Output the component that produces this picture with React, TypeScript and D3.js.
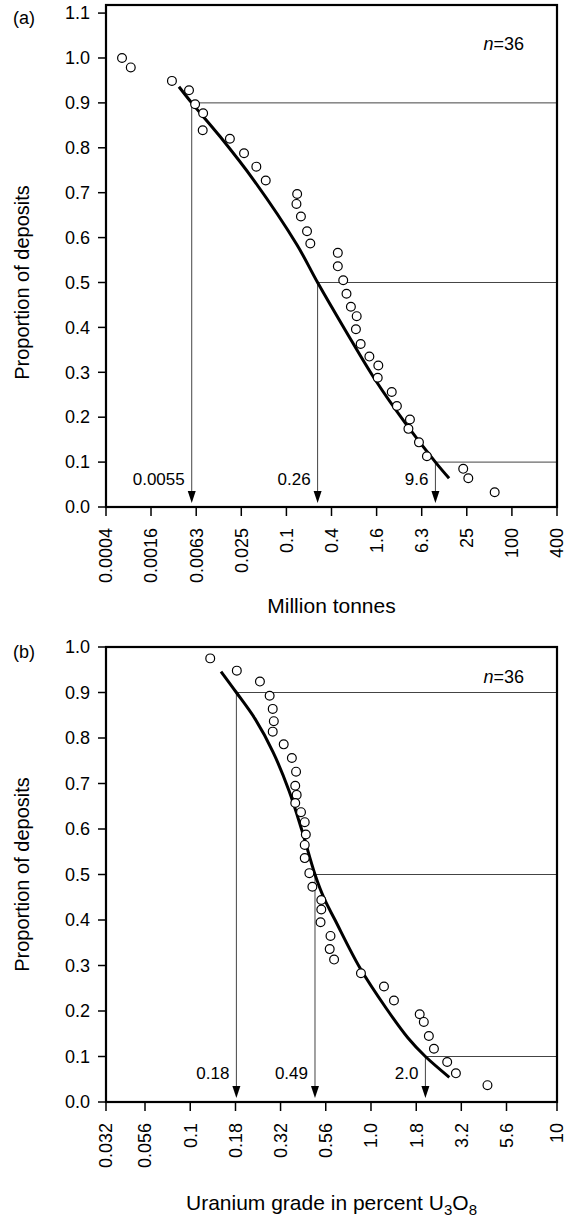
import React, { useRef, useEffect } from 'react';
import * as d3 from 'd3';

const W = 567;
const H = 1219;
const FONT = "'Liberation Sans', Arial, Helvetica, sans-serif";

// (a) deposit tonnage, million tonnes
const tonnage = [0.00065, 0.00085, 0.003, 0.00506, 0.0061, 0.0078, 0.0077, 0.0177, 0.0273, 0.0398, 0.0531, 0.139,
  0.136, 0.156, 0.188, 0.208, 0.483, 0.483, 0.57, 0.63, 0.721, 0.861, 0.841, 0.972, 1.27, 1.67, 1.64,
  2.52, 2.95, 4.4, 4.2, 5.8, 7.4, 22.5, 26.3, 59];
const tonnageProp = [1.0, 0.979, 0.949, 0.928, 0.897, 0.877, 0.839, 0.82, 0.788, 0.758, 0.727, 0.697,
  0.675, 0.647, 0.614, 0.587, 0.566, 0.536, 0.505, 0.475, 0.446, 0.425, 0.396, 0.363, 0.335, 0.315, 0.288,
  0.256, 0.225, 0.195, 0.174, 0.144, 0.113, 0.085, 0.064, 0.033];
// fitted curve
const tonnageFitX = [0.00372, 0.0055, 0.0131, 0.0371, 0.138, 0.26, 0.602, 1.51, 3.78, 9.6, 14.6];
const tonnageFitP = [0.936, 0.9, 0.825, 0.727, 0.584, 0.5, 0.395, 0.284, 0.188, 0.1, 0.064];
const tonnageQuant = [0.0055, 0.26, 9.6];
const tonnageQuantLabels = ['0.0055', '0.26', '9.6'];
const tonnageTicks = [0.000398, 0.00158, 0.00631, 0.0251, 0.1, 0.398, 1.585, 6.31, 25.1, 100, 398];
const tonnageTickLabels = ['0.0004', '0.0016', '0.0063', '0.025', '0.1', '0.4', '1.6', '6.3', '25', '100', '400'];
const propTicksA = [0, 0.1, 0.2, 0.3, 0.4, 0.5, 0.6, 0.7, 0.8, 0.9, 1.0, 1.1];

// (b) uranium grade, percent U3O8
const grade = [0.129, 0.181, 0.243, 0.275, 0.286, 0.29, 0.286, 0.329, 0.365, 0.385, 0.381, 0.388,
  0.381, 0.41, 0.43, 0.436, 0.43, 0.43, 0.456, 0.474, 0.531, 0.531, 0.526, 0.597, 0.591, 0.625, 0.88,
  1.18, 1.34, 1.86, 1.96, 2.09, 2.23, 2.64, 2.95, 4.41];
const gradeProp = [0.975, 0.948, 0.924, 0.893, 0.864, 0.837, 0.814, 0.786, 0.756, 0.726, 0.695, 0.675,
  0.657, 0.637, 0.615, 0.588, 0.565, 0.536, 0.503, 0.473, 0.444, 0.423, 0.395, 0.365, 0.336, 0.313, 0.283,
  0.254, 0.223, 0.193, 0.176, 0.145, 0.117, 0.088, 0.063, 0.037];
const gradeFitX = [0.148, 0.18, 0.2284, 0.2872, 0.352, 0.4155, 0.49, 0.5497, 0.6327, 0.8696, 1.211, 1.603, 2.0, 2.713];
const gradeFitP = [0.946, 0.9, 0.842, 0.769, 0.684, 0.596, 0.5, 0.448, 0.4, 0.2945, 0.2066, 0.1407, 0.1, 0.0543];
const gradeQuant = [0.18, 0.49, 2.0];
const gradeQuantLabels = ['0.18', '0.49', '2.0'];
const gradeTicks = [0.0316, 0.0562, 0.1, 0.178, 0.316, 0.562, 1, 1.78, 3.16, 5.62, 10];
const gradeTickLabels = ['0.032', '0.056', '0.1', '0.18', '0.32', '0.56', '1.0', '1.8', '3.2', '5.6', '10'];
const propTicksB = [0, 0.1, 0.2, 0.3, 0.4, 0.5, 0.6, 0.7, 0.8, 0.9, 1.0];

const quantProps = [0.9, 0.5, 0.1];

interface Panel {
  tag: string;
  xs: number[];
  ps: number[];
  fitX: number[];
  fitP: number[];
  quant: number[];
  quantLabels: string[];
  xTicks: number[];
  xTickLabels: string[];
  yTicks: number[];
  xDomain: number[];
  xRange: number[];
  yMax: number;
  top: number;
  bottom: number;
  nY: number;
  titleY: number;
  title: 'tonnes' | 'grade';
}

const panels: Panel[] = [
  {
    tag: '(a)', xs: tonnage, ps: tonnageProp, fitX: tonnageFitX, fitP: tonnageFitP,
    quant: tonnageQuant, quantLabels: tonnageQuantLabels,
    xTicks: tonnageTicks, xTickLabels: tonnageTickLabels, yTicks: propTicksA,
    xDomain: [0.000398, 398], xRange: [106, 557],
    yMax: 1.118, top: 5, bottom: 507, nY: 50, titleY: 613, title: 'tonnes',
  },
  {
    tag: '(b)', xs: grade, ps: gradeProp, fitX: gradeFitX, fitP: gradeFitP,
    quant: gradeQuant, quantLabels: gradeQuantLabels,
    xTicks: gradeTicks, xTickLabels: gradeTickLabels, yTicks: propTicksB,
    // the printed axis is not quite evenly spaced at its ends
    xDomain: [0.0316, 0.0562, 5.62, 10], xRange: [106, 145, 506.5, 557],
    yMax: 1.0, top: 647, bottom: 1102, nY: 683, titleY: 1210, title: 'grade',
  },
];

function drawPanel(svg: d3.Selection<SVGSVGElement, unknown, null, undefined>, p: Panel) {
  const x = d3.scaleLog().domain(p.xDomain).range(p.xRange);
  const y = d3.scaleLinear().domain([0, p.yMax]).range([p.bottom, p.top]);
  const x0 = p.xRange[0];
  const x1 = p.xRange[p.xRange.length - 1];
  const g = svg.append('g').attr('font-family', FONT).attr('fill', '#000');

  // quantile guide lines with arrows
  p.quant.forEach((q, i) => {
    const qx = x(q);
    const qy = y(quantProps[i]);
    const tip = y(0) - 4;
    g.append('line')
      .attr('x1', qx).attr('x2', x1).attr('y1', qy).attr('y2', qy)
      .attr('stroke', '#444').attr('stroke-width', 1);
    g.append('line')
      .attr('x1', qx).attr('x2', qx).attr('y1', qy).attr('y2', tip - 8)
      .attr('stroke', '#444').attr('stroke-width', 1);
    g.append('path')
      .attr('d', `M${qx - 4},${tip - 12}L${qx + 4},${tip - 12}L${qx},${tip}Z`)
      .attr('fill', '#000');
    g.append('text')
      .attr('x', qx - 7).attr('y', y(0.05))
      .attr('text-anchor', 'end').attr('font-size', 17)
      .text(p.quantLabels[i]);
  });

  // fitted curve
  const fit = p.fitX.map((v, i) => [v, p.fitP[i]] as [number, number]);
  const line = d3.line<[number, number]>()
    .x(d => x(d[0]))
    .y(d => y(d[1]))
    .curve(d3.curveCatmullRom.alpha(0.5));
  g.append('path').datum(fit)
    .attr('d', line)
    .attr('fill', 'none').attr('stroke', '#000').attr('stroke-width', 3);

  // observed deposits
  g.selectAll('circle.pt')
    .data(p.xs.map((v, i) => [v, p.ps[i]]))
    .enter().append('circle')
    .attr('class', 'pt')
    .attr('cx', d => x(d[0]))
    .attr('cy', d => y(d[1]))
    .attr('r', 4.4)
    .attr('fill', '#fff').attr('stroke', '#000').attr('stroke-width', 1.2);

  // frame
  g.append('rect')
    .attr('x', x0).attr('y', p.top).attr('width', x1 - x0).attr('height', p.bottom - p.top)
    .attr('fill', 'none').attr('stroke', '#000').attr('stroke-width', 2.2);

  // y axis
  p.yTicks.forEach(t => {
    g.append('line')
      .attr('x1', x0 - 8).attr('x2', x0).attr('y1', y(t)).attr('y2', y(t))
      .attr('stroke', '#000').attr('stroke-width', 1.5);
    g.append('text')
      .attr('x', x0 - 16).attr('y', y(t)).attr('dy', '0.35em')
      .attr('text-anchor', 'end').attr('font-size', 18)
      .text(d3.format('.1f')(t));
  });

  // x axis
  p.xTicks.forEach((t, i) => {
    g.append('line')
      .attr('x1', x(t)).attr('x2', x(t)).attr('y1', p.bottom).attr('y2', p.bottom + 9)
      .attr('stroke', '#000').attr('stroke-width', 1.5);
    g.append('text')
      .attr('transform', `translate(${x(t)},${p.bottom + 21}) rotate(-90)`)
      .attr('dy', '0.35em')
      .attr('text-anchor', 'end').attr('font-size', 18)
      .text(p.xTickLabels[i]);
  });

  // panel tag and n
  g.append('text')
    .attr('x', 13).attr('y', y(p.yTicks[p.yTicks.length - 1]) + 11)
    .attr('font-size', 18)
    .text(p.tag);
  const n = g.append('text')
    .attr('x', 524).attr('y', p.nY)
    .attr('text-anchor', 'end').attr('font-size', 18);
  n.append('tspan').attr('font-style', 'italic').text('n');
  n.append('tspan').text('=36');

  // axis titles
  g.append('text')
    .attr('transform', `translate(29,${y(0.5)}) rotate(-90)`)
    .attr('text-anchor', 'middle').attr('font-size', 20)
    .text('Proportion of deposits');

  const title = g.append('text')
    .attr('x', (x0 + x1) / 2).attr('y', p.titleY)
    .attr('text-anchor', 'middle').attr('font-size', 21);
  if (p.title === 'tonnes') {
    title.text('Million tonnes');
  } else {
    title.append('tspan').text('Uranium grade in percent U');
    title.append('tspan').attr('dy', 5).attr('font-size', 15).text('3');
    title.append('tspan').attr('dy', -5).text('O');
    title.append('tspan').attr('dy', 5).attr('font-size', 15).text('8');
  }
}

const App: React.FC = () => {
  const svgRef = useRef<SVGSVGElement | null>(null);

  useEffect(() => {
    if (!svgRef.current) return;
    const svg = d3.select(svgRef.current);
    svg.selectAll('*').remove();
    panels.forEach(p => drawPanel(svg, p));
  }, []);

  return (
    <svg
      ref={svgRef}
      width={W}
      height={H}
      style={{ position: 'absolute', left: 0, top: 0, background: '#fff' }}
    />
  );
};

export default App;
